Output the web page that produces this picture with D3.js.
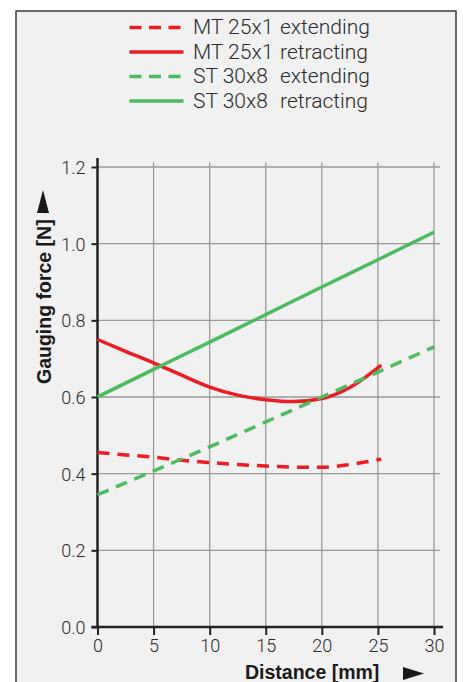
<!DOCTYPE html>
<html><head><meta charset="utf-8">
<script src="https://cdn.jsdelivr.net/npm/d3@7"></script>
<style>html,body{margin:0;padding:0;background:#fff;}svg{display:block;}</style>
</head><body>
<svg id="c" width="463" height="682"></svg>
<script>
// Data
const xTicks = [0, 5, 10, 15, 20, 25, 30];
const yTicks = [0.0, 0.2, 0.4, 0.6, 0.8, 1.0, 1.2];
const mtX = [0, 2.5, 5, 7.5, 10, 12.5, 15, 17.5, 20, 22.5, 25.3];
const mtExtending = [0.455, 0.449, 0.443, 0.435, 0.429, 0.424, 0.420, 0.417, 0.417, 0.424, 0.438];
const mtRetracting = [0.750, 0.719, 0.689, 0.657, 0.626, 0.605, 0.593, 0.588, 0.596, 0.625, 0.683];
const stX = [0, 5, 10, 15, 20, 25, 30];
const stExtending = [0.345, 0.407, 0.470, 0.535, 0.600, 0.665, 0.731];
const stRetracting = [0.600, 0.672, 0.743, 0.815, 0.887, 0.958, 1.030];
const seriesNames = ["MT 25x1", "MT 25x1", "ST 30x8", "ST 30x8"];
const seriesModes = ["extending", "retracting", "extending", "retracting"];

const RED = "#ec1c24", GREEN = "#4dbb5f";
const series = [
  {name: seriesNames[0], mode: seriesModes[0], xs: mtX, ys: mtExtending, color: RED, dash: "12,8"},
  {name: seriesNames[1], mode: seriesModes[1], xs: mtX, ys: mtRetracting, color: RED, dash: null},
  {name: seriesNames[2], mode: seriesModes[2], xs: stX, ys: stExtending, color: GREEN, dash: "12,8"},
  {name: seriesNames[3], mode: seriesModes[3], xs: stX, ys: stRetracting, color: GREEN, dash: null}
];

const svg = d3.select("#c");
svg.append("rect").attr("x", 16).attr("y", 11).attr("width", 440).attr("height", 700)
  .attr("fill", "#f1f1f1").attr("stroke", "#3a3a3a").attr("stroke-width", 1.5);

const x = d3.scaleLinear().domain([0, 30]).range([97.5, 434]);
const y = d3.scaleLinear().domain([0, 1.2]).range([627, 167]);
const tickFont = "Roboto, 'Liberation Sans', Arial, sans-serif";
const titleFont = "'Liberation Sans', Arial, sans-serif";

// grid
const g = svg.append("g");
g.selectAll(".hg").data(yTicks.filter(d => d > 0)).join("line")
  .attr("x1", x(0)).attr("x2", 440).attr("y1", d => y(d)).attr("y2", d => y(d))
  .attr("stroke", "#9a9a9a").attr("stroke-width", 1.3);
g.selectAll(".vg").data(xTicks.filter(d => d > 0)).join("line")
  .attr("x1", d => x(d)).attr("x2", d => x(d)).attr("y1", 162.5).attr("y2", y(0))
  .attr("stroke", "#9a9a9a").attr("stroke-width", 1.3);

// axes
const yAxis = d3.axisLeft(y).tickValues(yTicks).tickFormat(d3.format(".1f")).tickSize(6).tickPadding(6);
const xAxis = d3.axisBottom(x).tickValues(xTicks).tickFormat(d3.format("d")).tickSize(8).tickPadding(5);
const ya = svg.append("g").attr("transform", `translate(${x(0)},0)`).call(yAxis);
const xa = svg.append("g").attr("transform", `translate(0,${y(0)})`).call(xAxis);
[ya, xa].forEach(a => {
  a.select(".domain").remove();
  a.selectAll(".tick line").attr("stroke", "#222").attr("stroke-width", 2);
  a.selectAll(".tick text").attr("fill", "#2a2a2a").style("font-family", tickFont)
    .style("font-size", "18px").style("font-weight", 300);
});
ya.selectAll(".tick text").attr("dy", "0.36em");
xa.selectAll(".tick text").attr("dy", "0.68em");
// axis lines
svg.append("line").attr("x1", x(0)).attr("x2", x(0)).attr("y1", 158).attr("y2", y(0) + 1)
  .attr("stroke", "#222").attr("stroke-width", 2.5);
svg.append("line").attr("x1", x(0) - 6).attr("x2", 443).attr("y1", y(0)).attr("y2", y(0))
  .attr("stroke", "#222").attr("stroke-width", 2.5);

// series lines
series.forEach(s => {
  const pts = s.xs.map((v, i) => [v, s.ys[i]]);
  const line = d3.line().x(d => x(d[0])).y(d => y(d[1])).curve(d3.curveMonotoneX);
  svg.append("path").attr("d", line(pts)).attr("fill", "none")
    .attr("stroke", s.color).attr("stroke-width", 3.5)
    .attr("stroke-dasharray", s.dash);
});

// legend
series.forEach((s, i) => {
  const ly = 27.5 + 24.5 * i;
  svg.append("line").attr("x1", 129.5).attr("x2", 183.5).attr("y1", ly).attr("y2", ly)
    .attr("stroke", s.color).attr("stroke-width", 3.5).attr("stroke-dasharray", s.dash ? "12,7.5" : null);
  svg.append("text").attr("x", 193).attr("y", ly + 6.5).text(s.name)
    .attr("fill", "#2a2a2a").style("font-family", tickFont).style("font-size", "21px").style("font-weight", 300);
  svg.append("text").attr("x", 280).attr("y", ly + 6.5).text(s.mode)
    .attr("fill", "#2a2a2a").style("font-family", tickFont).style("font-size", "21px").style("font-weight", 300);
});

// axis titles
svg.append("text").attr("transform", "translate(51,384) rotate(-90)").attr("text-anchor", "start")
  .text("Gauging force [N]").attr("fill", "#1a1a1a")
  .style("font-family", titleFont).style("font-size", "19.5px").style("font-weight", "bold");
svg.append("path").attr("d", "M37,213 L49,213 L43,190 Z").attr("fill", "#1a1a1a");
svg.append("text").attr("x", 245).attr("y", 679).attr("text-anchor", "start")
  .text("Distance [mm]").attr("fill", "#1a1a1a")
  .style("font-family", titleFont).style("font-size", "19.5px").style("font-weight", "bold");
svg.append("path").attr("d", "M403,667 L403,680 L424,673.5 Z").attr("fill", "#1a1a1a");
</script>
</body></html>
